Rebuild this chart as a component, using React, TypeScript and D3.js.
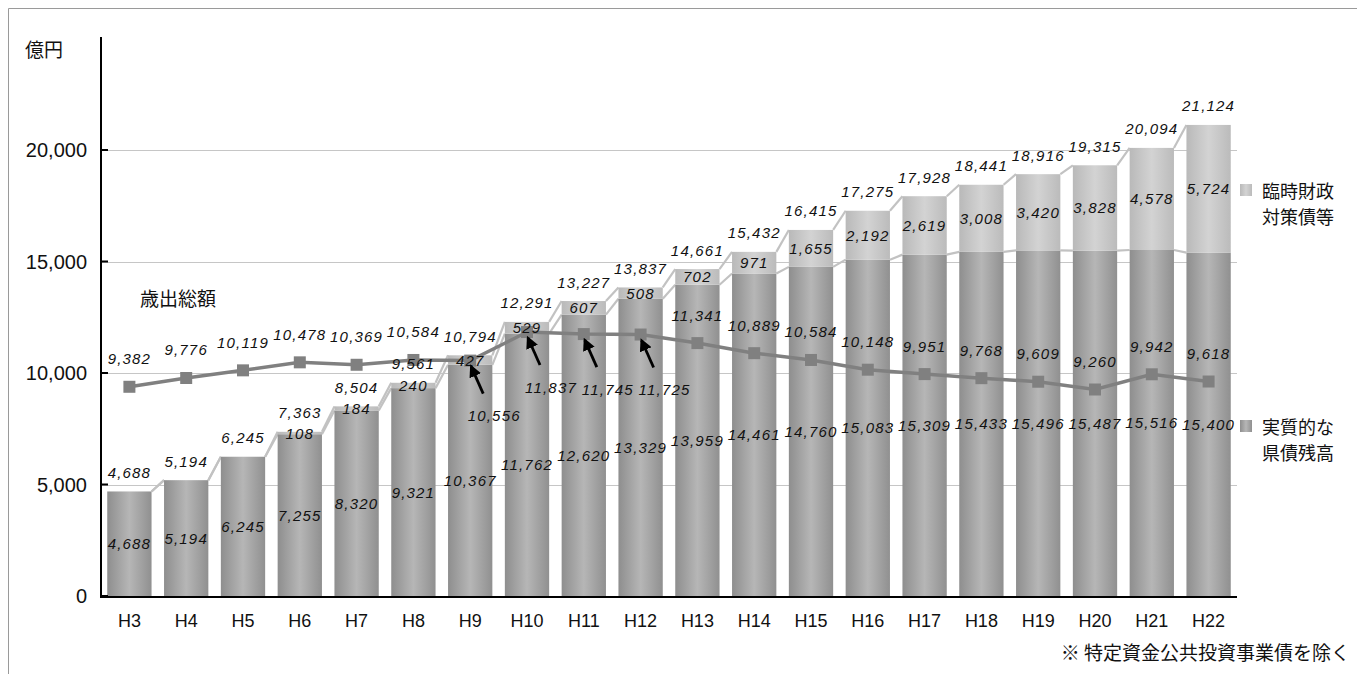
import * as d3 from 'd3';

const years = ['H3', 'H4', 'H5', 'H6', 'H7', 'H8', 'H9', 'H10', 'H11', 'H12', 'H13', 'H14', 'H15', 'H16', 'H17', 'H18', 'H19', 'H20', 'H21', 'H22'];
// 実質的な県債残高
const realDebt = [4688, 5194, 6245, 7255, 8320, 9321, 10367, 11762, 12620, 13329, 13959, 14461, 14760, 15083, 15309, 15433, 15496, 15487, 15516, 15400];
// 臨時財政対策債等
const specialDebt = [0, 0, 0, 108, 184, 240, 427, 529, 607, 508, 702, 971, 1655, 2192, 2619, 3008, 3420, 3828, 4578, 5724];
// 歳出総額
const spending = [9382, 9776, 10119, 10478, 10369, 10584, 10556, 11837, 11745, 11725, 11341, 10889, 10584, 10148, 9951, 9768, 9609, 9260, 9942, 9618];
// years whose 歳出総額 label sits below the marker with an arrow
const arrowYears = ['H9', 'H10', 'H11', 'H12'];

const W = 1357;
const H = 674;
const JP = '"Noto Sans CJK JP", sans-serif';
const NUM = '"Liberation Sans", sans-serif';

export default function App() {
  const x = d3.scaleBand<string>().domain(years).range([101, 1237]).paddingInner(0.22).paddingOuter(0.11);
  const y = d3.scaleLinear().domain([0, 25000]).range([596, 38.5]);
  const fmt = d3.format(',');
  const bw = x.bandwidth();
  const cx = (k: string) => (x(k) as number) + bw / 2;

  const rows = years.map((k, i) => ({
    k,
    debt: realDebt[i],
    sp: specialDebt[i],
    total: realDebt[i] + specialDebt[i],
    spend: spending[i],
  }));

  const line = d3
    .line<typeof rows[number]>()
    .x(d => cx(d.k))
    .y(d => y(d.spend));

  const seriesLines: { x1: number; y1: number; x2: number; y2: number }[] = [];
  rows.forEach((d, i) => {
    if (i === rows.length - 1) return;
    const n = rows[i + 1];
    const x1 = (x(d.k) as number) + bw;
    const x2 = x(n.k) as number;
    seriesLines.push({ x1, y1: y(d.debt), x2, y2: y(n.debt) });
    seriesLines.push({ x1, y1: y(d.total), x2, y2: y(n.total) });
  });

  const numStyle = { fontFamily: NUM, fontStyle: 'italic' as const, fontSize: 15, letterSpacing: 1.2, fill: '#111' };
  const legendText = { fontFamily: JP, fontSize: 18, fill: '#111', dominantBaseline: 'central' as const };

  return (
    <div style={{ position: 'fixed', left: 0, top: 0 }}>
      <svg width={W} height={H} style={{ display: 'block', background: '#fff' }}>
        <defs>
          <linearGradient id="gDebt" x1="0" x2="1" y1="0" y2="0">
            <stop offset="0" stopColor="#8e8e8e" />
            <stop offset="0.5" stopColor="#b6b6b6" />
            <stop offset="1" stopColor="#909090" />
          </linearGradient>
          <linearGradient id="gSp" x1="0" x2="1" y1="0" y2="0">
            <stop offset="0" stopColor="#b9b9b9" />
            <stop offset="0.5" stopColor="#d3d3d3" />
            <stop offset="1" stopColor="#bbbbbb" />
          </linearGradient>
          <marker id="arrow" viewBox="0 0 10 10" refX="8" refY="5" markerWidth="4.5" markerHeight="4.5" orient="auto">
            <path d="M0,0 L10,5 L0,10 z" fill="#000" />
          </marker>
        </defs>

        {/* outer frame */}
        <path d={`M8.5,${H} V8.5 H${W}`} fill="none" stroke="#9a9a9a" strokeWidth={1} />

        {/* gridlines */}
        {y.ticks(5).filter(t => t > 0 && t <= 20000).map(t => (
          <line key={t} x1={101} x2={1237} y1={Math.round(y(t)) + 0.5} y2={Math.round(y(t)) + 0.5} stroke="#c6c6c6" />
        ))}

        {/* series lines */}
        {seriesLines.map((s, i) => (
          <line key={i} {...s} stroke="#c2c2c2" strokeWidth={2.2} />
        ))}

        {/* bars */}
        {rows.map(d => (
          <g key={d.k}>
            <rect x={x(d.k)} y={y(d.debt)} width={bw} height={y(0) - y(d.debt)} fill="url(#gDebt)" />
            {d.sp > 0 && (
              <rect x={x(d.k)} y={y(d.total)} width={bw} height={y(d.debt) - y(d.total)} fill="url(#gSp)" />
            )}
          </g>
        ))}

        {/* axes */}
        <line x1={101} x2={101} y1={37} y2={597} stroke="#000" strokeWidth={2} />
        <line x1={100} x2={1237} y1={597} y2={597} stroke="#000" strokeWidth={2} />
        {y.ticks(5).filter(t => t <= 20000).map(t => (
          <g key={t}>
            <line x1={101} x2={108} y1={y(t)} y2={y(t)} stroke="#000" strokeWidth={2} />
            <text x={87} y={y(t)} textAnchor="end" dominantBaseline="central" fontFamily='"Liberation Sans", sans-serif' fontSize={20} fill="#111">
              {fmt(t)}
            </text>
          </g>
        ))}
        {years.map(k => (
          <text key={k} x={cx(k)} y={621} textAnchor="middle" dominantBaseline="central" fontFamily='"Liberation Sans", sans-serif' fontSize={18} fill="#111">
            {k}
          </text>
        ))}

        {/* 歳出総額 line */}
        <path d={line(rows) || ''} fill="none" stroke="#808080" strokeWidth={3.5} />
        {rows.map(d => (
          <rect key={d.k} x={cx(d.k) - 6} y={y(d.spend) - 6} width={12} height={12} fill="#808080" />
        ))}

        {/* bar labels */}
        {rows.map(d => (
          <g key={d.k} {...numStyle} textAnchor="middle">
            <text x={cx(d.k)} y={y(d.debt / 2)} dominantBaseline="central">{fmt(d.debt)}</text>
            {d.sp > 0 && (
              <text x={cx(d.k)} y={y(d.debt + d.sp / 2)} dominantBaseline="central">{fmt(d.sp)}</text>
            )}
            <text x={cx(d.k)} y={y(d.total) - 19} dominantBaseline="central">{fmt(d.total)}</text>
          </g>
        ))}

        {/* 歳出総額 labels */}
        {rows.map(d => {
          const px = cx(d.k);
          const py = y(d.spend);
          if (arrowYears.includes(d.k)) {
            return (
              <g key={d.k}>
                <line x1={px + 13} y1={py + 33} x2={px + 1} y2={py + 6} stroke="#000" strokeWidth={2.8} markerEnd="url(#arrow)" />
                <text x={px + 24} y={py + 55} textAnchor="middle" dominantBaseline="central" {...numStyle}>{fmt(d.spend)}</text>
              </g>
            );
          }
          return (
            <text key={d.k} x={px} y={py - 28} textAnchor="middle" dominantBaseline="central" {...numStyle}>{fmt(d.spend)}</text>
          );
        })}

        {/* titles and legend */}
        <text x={25} y={48} dominantBaseline="central" fontFamily={JP} fontSize={19} fill="#111">億円</text>
        <text x={140} y={297} dominantBaseline="central" fontFamily={JP} fontSize={19} fill="#111">歳出総額</text>

        <rect x={1240} y={184} width={12} height={12} fill="url(#gSp)" />
        <text x={1262} y={190} {...legendText}>臨時財政</text>
        <text x={1262} y={216} {...legendText}>対策債等</text>

        <rect x={1240} y={420} width={12} height={12} fill="url(#gDebt)" />
        <text x={1262} y={426} {...legendText}>実質的な</text>
        <text x={1262} y={452} {...legendText}>県債残高</text>

        <text x={1350} y={651} textAnchor="end" dominantBaseline="central" fontFamily={JP} fontSize={19} fill="#111">※ 特定資金公共投資事業債を除く</text>
      </svg>
    </div>
  );
}
